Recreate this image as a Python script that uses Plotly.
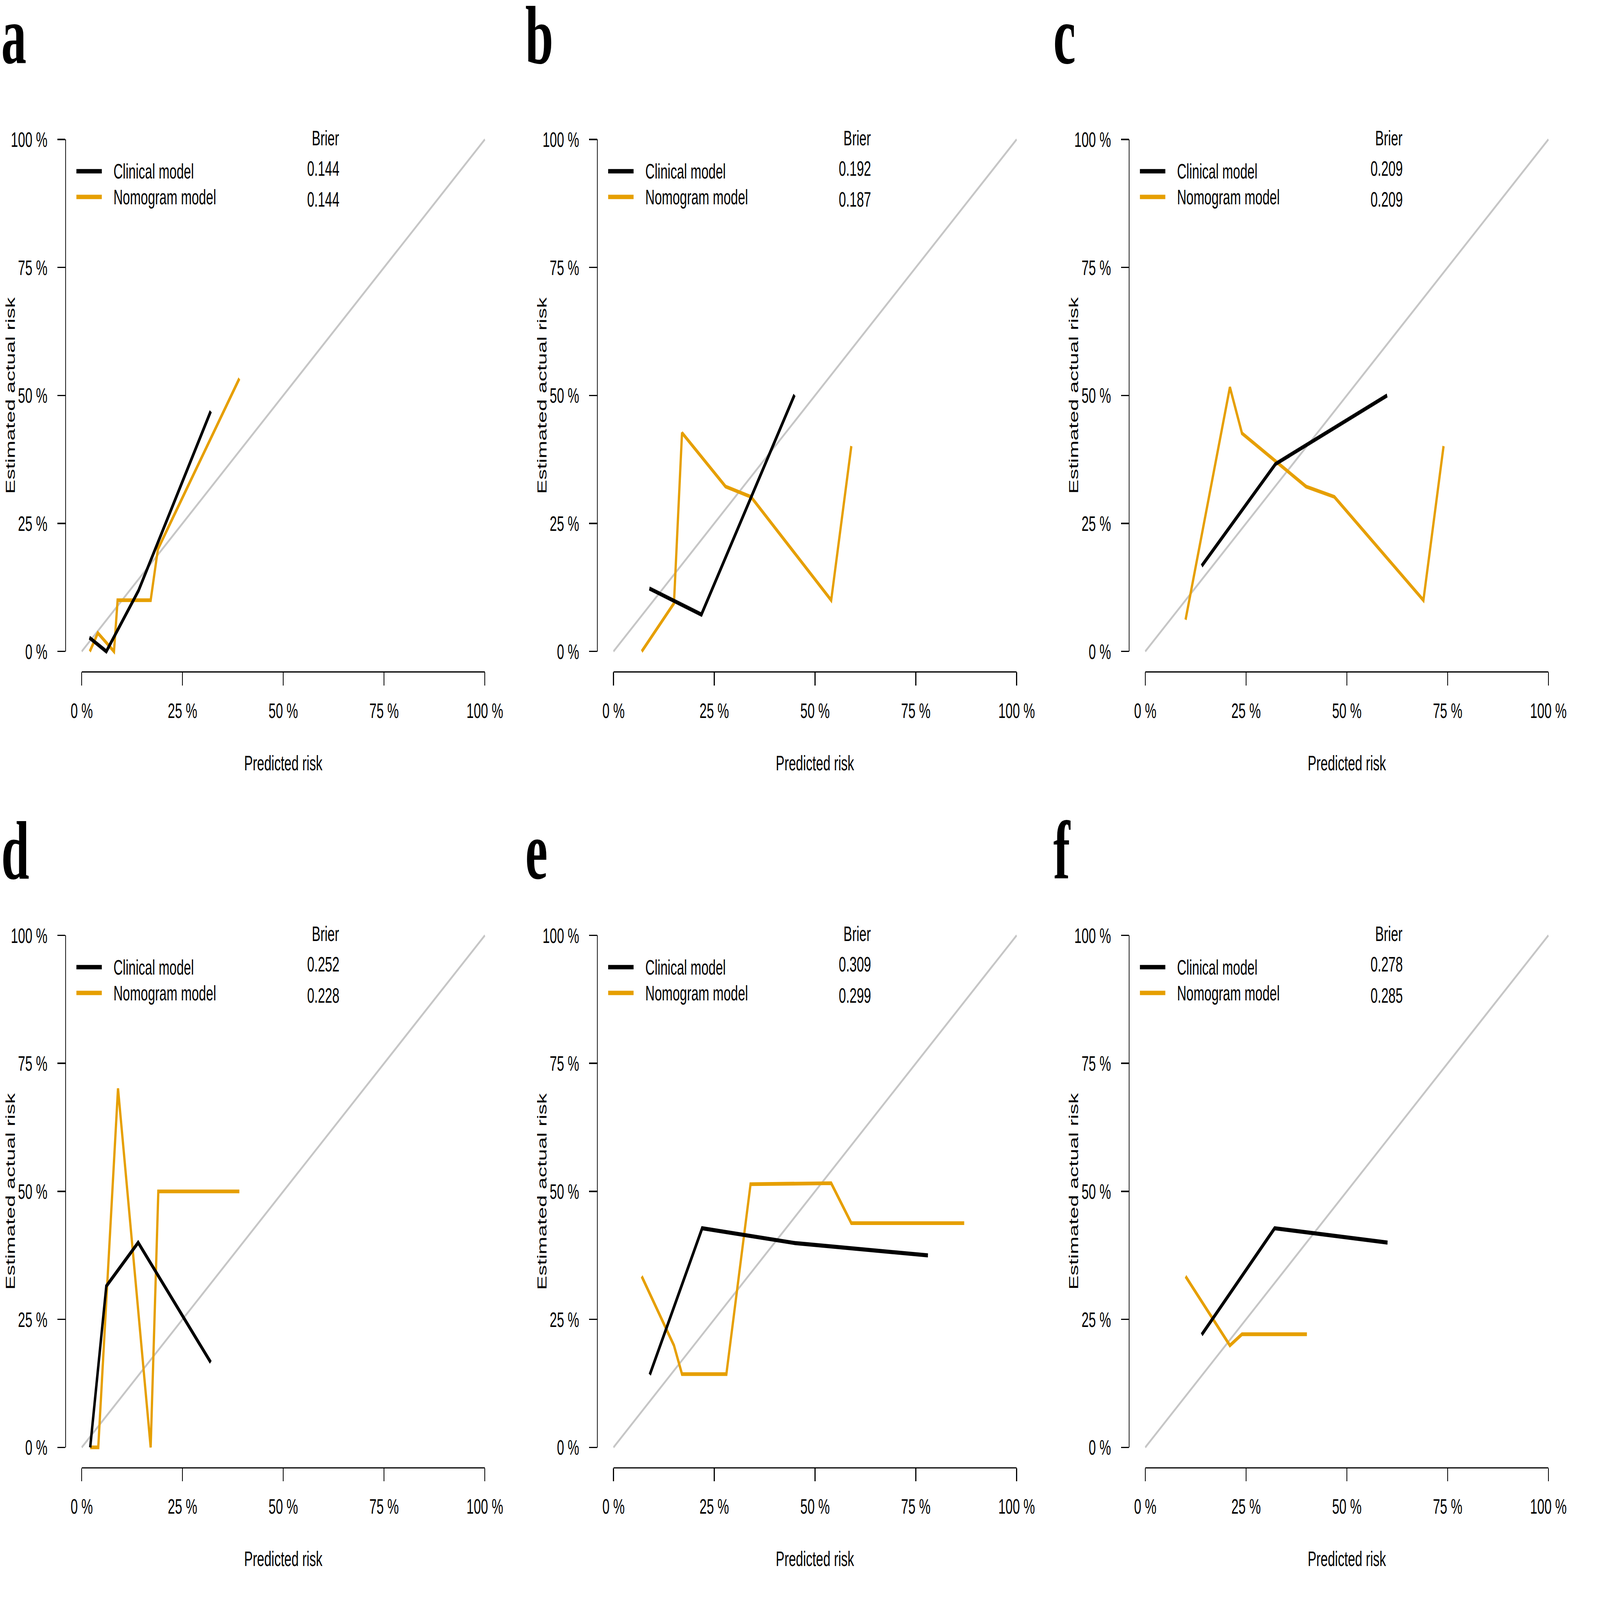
import plotly.graph_objects as go

# calibration curves, values in percent (predicted risk -> estimated actual risk)
panel_letters = ["a", "b", "c", "d", "e", "f"]
brier_clinical = ["0.144", "0.192", "0.209", "0.252", "0.309", "0.278"]
brier_nomogram = ["0.144", "0.187", "0.209", "0.228", "0.299", "0.285"]

clinical_x = [
    [1.9, 6.1, 14.1, 32.0],
    [8.9, 21.8, 44.9],
    [14.0, 32.3, 60.0],
    [2.1, 6.1, 14.0, 32.0],
    [9.0, 22.0, 45.0, 78.0],
    [14.0, 32.1, 60.1],
]
clinical_y = [
    [2.7, 0.0, 11.9, 46.9],
    [12.3, 7.2, 50.1],
    [16.7, 36.6, 50.0],
    [0.0, 31.5, 40.0, 16.6],
    [14.2, 42.8, 39.9, 37.5],
    [22.0, 42.8, 40.0],
]
nomogram_x = [
    [2.0, 4.0, 8.0, 8.9, 17.1, 18.9, 39.1],
    [7.0, 15.0, 17.0, 27.8, 34.1, 54.0, 59.0],
    [10.0, 21.0, 24.0, 39.9, 46.9, 69.0, 74.0],
    [2.1, 4.1, 9.0, 17.1, 19.0, 39.1],
    [7.0, 15.0, 17.0, 28.0, 34.0, 54.0, 59.0, 87.0],
    [10.0, 21.0, 24.0, 40.1],
]
nomogram_y = [
    [0.0, 3.6, 0.0, 10.0, 10.0, 20.0, 53.3],
    [0.0, 9.4, 42.7, 32.2, 30.2, 10.0, 40.1],
    [6.2, 51.6, 42.6, 32.2, 30.2, 10.0, 40.1],
    [0.0, 0.0, 70.1, 0.0, 50.0, 50.0],
    [33.4, 19.9, 14.3, 14.3, 51.4, 51.6, 43.8, 43.8],
    [33.4, 19.9, 22.1, 22.1],
]
diagonal = [0, 100]
tick_vals = [0, 25, 50, 75, 100]
tick_text = ["0 %", "25 %", "50 %", "75 %", "100 %"]

W, H = 7800, 4728
COL_X0 = [399, 2995, 5591]      # pixel x of 0 % on each column
ROW_Y100 = [412, 2764]          # pixel y of 100 % on each row
SPAN_X, SPAN_Y = 1968, 1513
LETTER_X = [4, 2563, 5140]
LETTER_BASE = [186, 2595]

BLACK = "#000000"
ORANGE = "#E69F00"
GREY = "#C6C6C6"
FONT = "Liberation Sans"
FS = 63


def px(x):
    return x / W


def py(y):
    return 1 - y / H


fig = go.Figure()
shapes = []
annotations = []

for i in range(6):
    row, col = divmod(i, 3)
    n = "" if i == 0 else str(i + 1)
    x0 = COL_X0[col]
    y100 = ROW_Y100[row]
    y0 = y100 + SPAN_Y

    fig.add_trace(go.Scatter(x=diagonal, y=diagonal, mode="lines",
                             line=dict(color=GREY, width=7),
                             xaxis="x" + n, yaxis="y" + n, showlegend=False, hoverinfo="skip"))
    fig.add_trace(go.Scatter(x=nomogram_x[i], y=nomogram_y[i], mode="lines",
                             line=dict(color=ORANGE, width=11),
                             xaxis="x" + n, yaxis="y" + n, showlegend=False))
    fig.add_trace(go.Scatter(x=clinical_x[i], y=clinical_y[i], mode="lines",
                             line=dict(color=BLACK, width=12),
                             xaxis="x" + n, yaxis="y" + n, showlegend=False))

    axis_common = dict(
        range=[-4, 104], showgrid=False, zeroline=False, showline=False,
        tickvals=tick_vals, ticktext=tick_text, ticks="outside", ticklen=39,
        tickwidth=3.5, tickcolor=BLACK, tickfont=dict(family=FONT, size=FS, color=BLACK),
        fixedrange=True,
    )
    fig.layout["xaxis" + n] = dict(
        axis_common, anchor="y" + n, ticklabelstandoff=20,
        domain=[px(x0 - 0.04 * SPAN_X), px(x0 + 1.04 * SPAN_X)],
    )
    fig.layout["yaxis" + n] = dict(
        axis_common, anchor="x" + n, ticklabelstandoff=36,
        domain=[py(y0 + 0.04 * SPAN_Y), py(y100 - 0.04 * SPAN_Y)],
    )

    # R-style axis lines covering only 0-100 %
    shapes.append(dict(type="line", xref="x" + n, yref="y" + n + " domain",
                       x0=0, x1=100, y0=0, y1=0, line=dict(color=BLACK, width=3.5)))
    shapes.append(dict(type="line", xref="x" + n + " domain", yref="y" + n,
                       x0=0, x1=0, y0=0, y1=100, line=dict(color=BLACK, width=3.5)))

    # legend
    for label, color, dy in [("Clinical model", BLACK, 94), ("Nomogram model", ORANGE, 170)]:
        shapes.append(dict(type="line", xref="paper", yref="paper",
                           x0=px(x0 - 26), x1=px(x0 + 98), y0=py(y100 + dy), y1=py(y100 + dy),
                           line=dict(color=color, width=13)))
        annotations.append(dict(text=label, xref="paper", yref="paper",
                                x=px(x0 + 153), y=py(y100 + dy), xanchor="left", yanchor="middle",
                                showarrow=False, font=dict(family=FONT, size=FS, color=BLACK)))

    annotations.append(dict(text="Brier", xref="paper", yref="paper",
                            x=px(x0 + 1258), y=py(y100 - 5), xanchor="right", yanchor="middle",
                            showarrow=False, font=dict(family=FONT, size=FS, color=BLACK)))
    for val, dy in [(brier_clinical[i], 85), (brier_nomogram[i], 177)]:
        annotations.append(dict(text=val, xref="paper", yref="paper",
                                x=px(x0 + 1260), y=py(y100 + dy), xanchor="right", yanchor="middle",
                                showarrow=False, font=dict(family=FONT, size=FS, color=BLACK)))

    # axis titles
    annotations.append(dict(text="Predicted risk", xref="paper", yref="paper",
                            x=px(x0 + 0.5 * SPAN_X), y=py(y0 + 0.04 * SPAN_Y + 268),
                            xanchor="center", yanchor="middle", showarrow=False,
                            font=dict(family=FONT, size=FS, color=BLACK)))
    annotations.append(dict(text="Estimated actual risk", xref="paper", yref="paper",
                            x=px(x0 - 350), y=py(y100 + 0.5 * SPAN_Y), textangle=-90,
                            xanchor="center", yanchor="middle", showarrow=False,
                            font=dict(family=FONT, size=FS, color=BLACK)))

    # panel letter
    annotations.append(dict(text="<b>%s</b>" % panel_letters[i], xref="paper", yref="paper",
                            x=px(LETTER_X[col]), y=py(LETTER_BASE[row] - 82),
                            xanchor="left", yanchor="middle", showarrow=False,
                            font=dict(family="Liberation Serif", size=245, color=BLACK)))

fig.update_layout(
    width=W, height=H,
    margin=dict(l=0, r=0, t=0, b=0),
    paper_bgcolor="white", plot_bgcolor="white",
    shapes=shapes, annotations=annotations,
    showlegend=False,
)

# fit the fixed-size figure into whatever window the page is opened in
fit_js = """
var gd = document.getElementById('{plot_id}');
document.documentElement.style.overflow = 'hidden';
document.body.style.margin = '0';
document.body.style.overflow = 'hidden';
var sx = window.innerWidth / %d, sy = window.innerHeight / %d;
gd.style.transformOrigin = '0 0';
gd.style.transform = 'scale(' + sx + ',' + sy + ')';
""" % (W, H)
fig.write_html("out.html", post_script=fit_js, config={"displayModeBar": False})
